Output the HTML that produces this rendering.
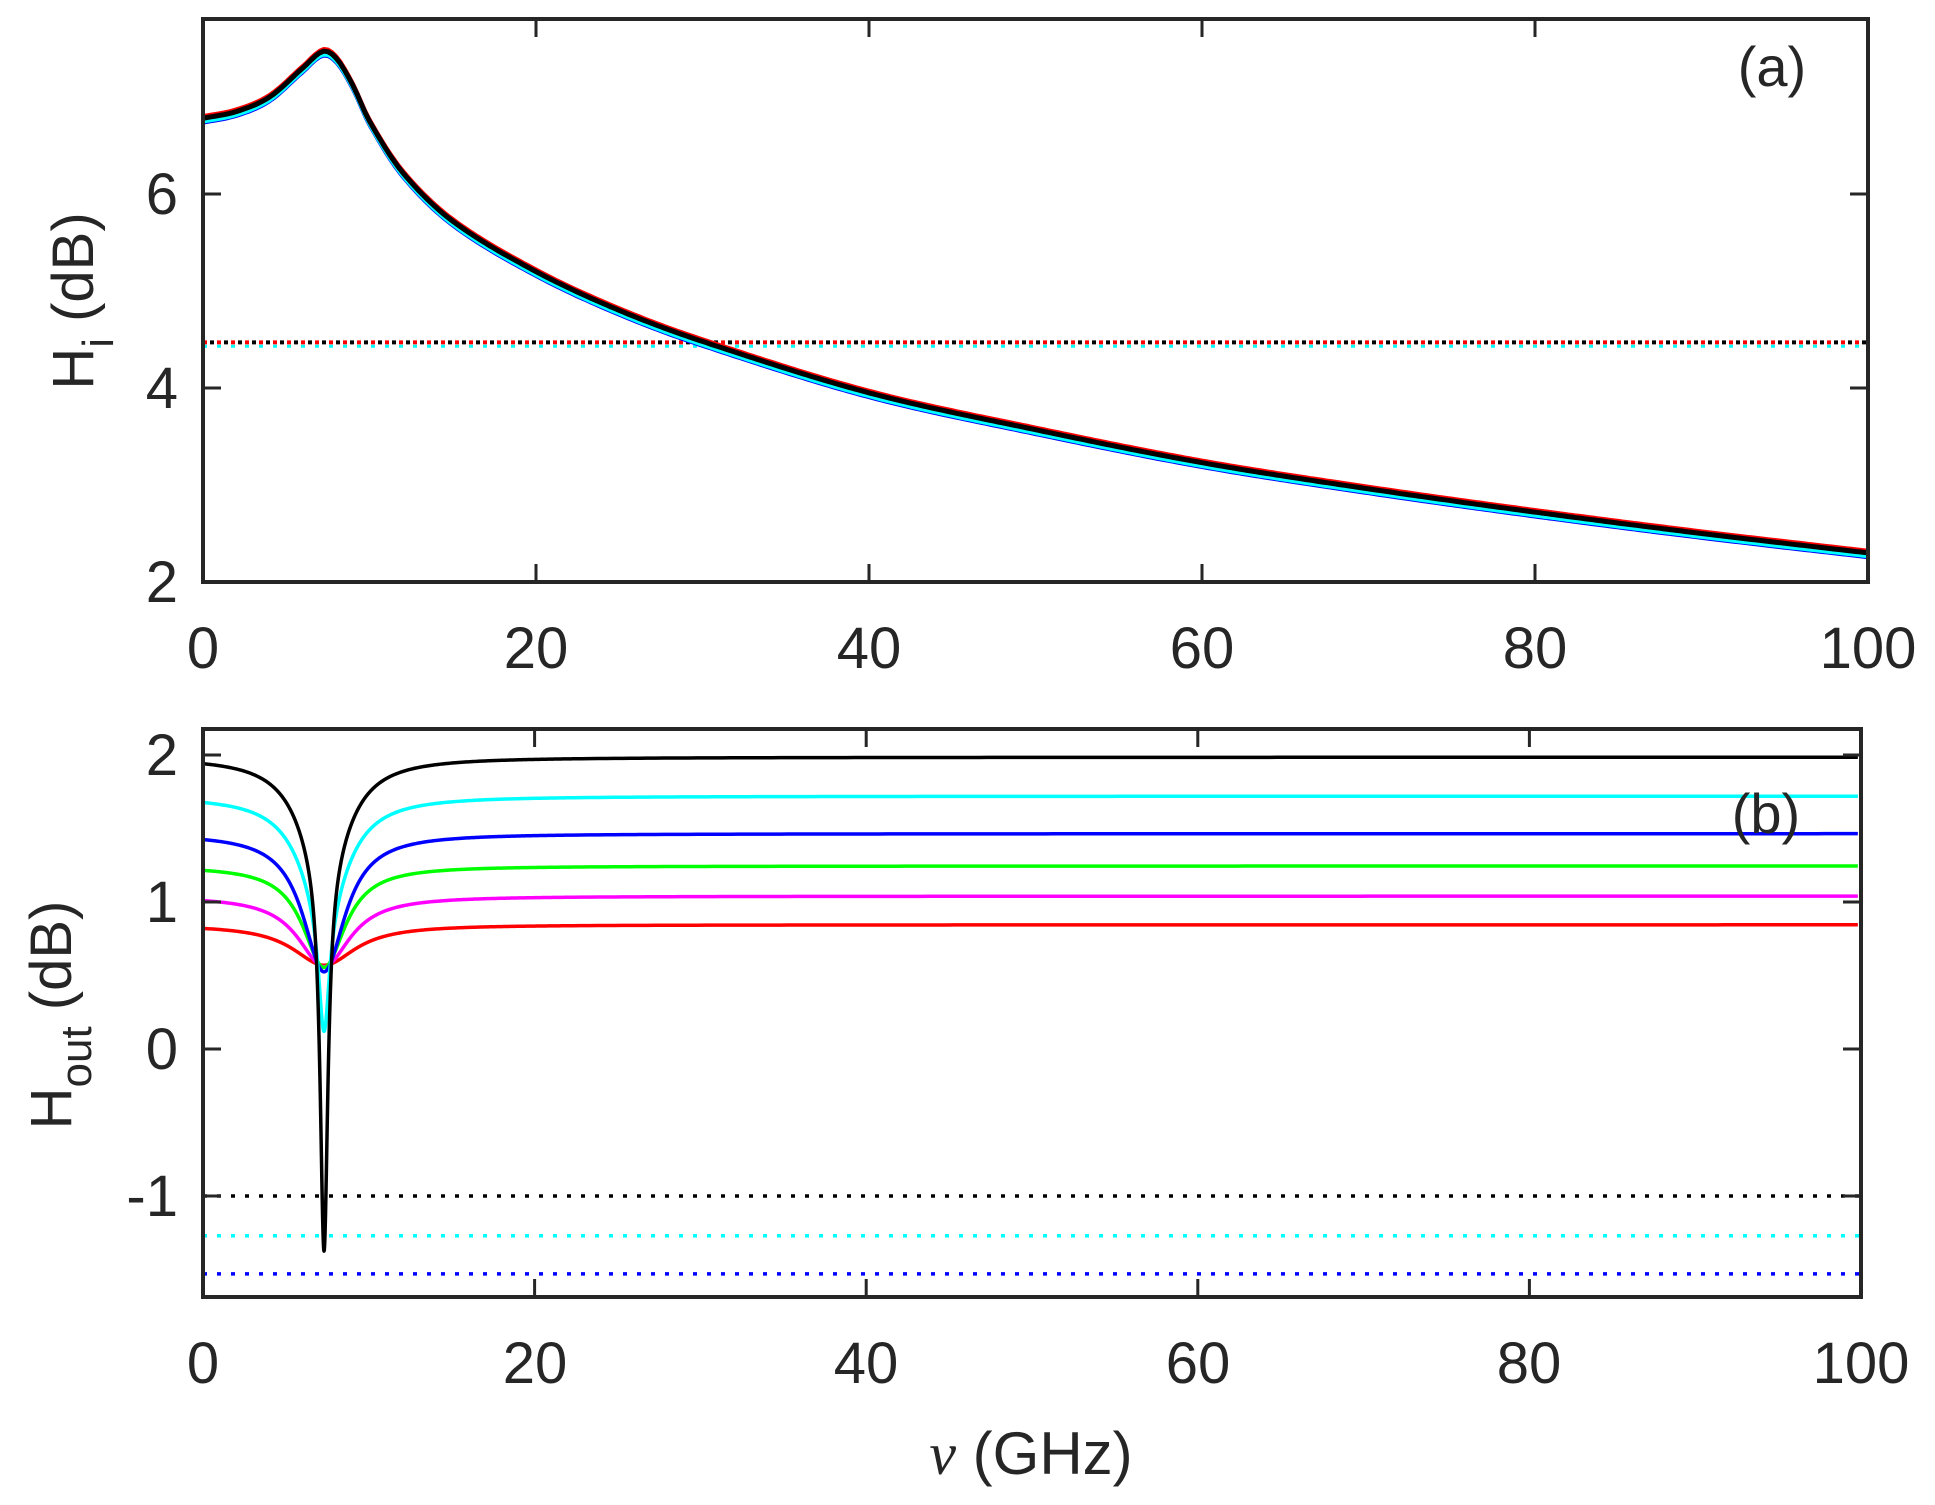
<!DOCTYPE html>
<html><head><meta charset="utf-8">
<style>
html,body{margin:0;padding:0;background:#fff;}
svg{display:block;font-family:"Liberation Sans",sans-serif;}
</style></head>
<body>
<svg id="s" width="1935" height="1505" viewBox="0 0 1935 1505" xmlns="http://www.w3.org/2000/svg">
<rect width="1935" height="1505" fill="#fff"/>
<g id="top"></g>
<g id="bot"></g>
<g fill="#262626" font-size="58">
<g text-anchor="middle">
<text x="203" y="668">0</text><text x="536" y="668">20</text><text x="869" y="668">40</text>
<text x="1202" y="668">60</text><text x="1535" y="668">80</text><text x="1868" y="668">100</text>
<text x="203" y="1383">0</text><text x="535" y="1383">20</text><text x="866" y="1383">40</text>
<text x="1198" y="1383">60</text><text x="1529" y="1383">80</text><text x="1861" y="1383">100</text>
</g>
<g text-anchor="end">
<text x="178" y="214">6</text><text x="178" y="408">4</text><text x="178" y="602">2</text>
<text x="178" y="775">2</text><text x="178" y="922">1</text><text x="178" y="1069">0</text><text x="178" y="1216">-1</text>
</g>
<text x="1772" y="86" text-anchor="middle" font-size="56">(a)</text>
<text x="1766" y="833" text-anchor="middle" font-size="56">(b)</text>
<text transform="translate(93,301) rotate(-90)" text-anchor="middle" font-size="58">H<tspan font-size="44" dy="20">i</tspan><tspan dy="-20"> (dB)</tspan></text>
<text transform="translate(71,1015) rotate(-90)" text-anchor="middle" font-size="58">H<tspan font-size="44" dy="20">out</tspan><tspan dy="-20"> (dB)</tspan></text>
<text x="1031" y="1474" text-anchor="middle" font-size="60"><tspan font-family="Liberation Serif" font-style="italic">ν</tspan> (GHz)</text>
</g>
</svg>
<script>
(function(){
var NS="http://www.w3.org/2000/svg";
function el(p,n,a){var e=document.createElementNS(NS,n);for(var k in a)e.setAttribute(k,a[k]);p.appendChild(e);return e;}
var top=document.getElementById('top'), bot=document.getElementById('bot');
var X0=203,X1=1868,Y0=19,Y1=582;
function tx(f){return X0+f*(X1-X0)/100;}
function ty(v){return Y1-97*(v-2);}
var D=[[0,6.78],[2,6.85],[4,7.0],[6,7.3],[7.2,7.47],[8,7.4],[9,7.12],[10,6.75],[12,6.22],[15,5.72],[20,5.2],[25,4.8],[30,4.48],[40,3.95],[50,3.57],[60,3.23],[70,2.96],[80,2.72],[90,2.5],[100,2.3]];
function interp(f){
 for(var i=0;i<D.length-1;i++){ if(f<=D[i+1][0]){
  var p0=D[Math.max(i-1,0)],p1=D[i],p2=D[i+1],p3=D[Math.min(i+2,D.length-1)];
  var t=(f-p1[0])/(p2[0]-p1[0]);
  var m1=(p2[1]-p0[1])/(p2[0]-p0[0]||1)*(p2[0]-p1[0]);
  var m2=(p3[1]-p1[1])/(p3[0]-p1[0]||1)*(p2[0]-p1[0]);
  var t2=t*t,t3=t2*t;
  return (2*t3-3*t2+1)*p1[1]+(t3-2*t2+t)*m1+(-2*t3+3*t2)*p2[1]+(t3-t2)*m2;}}
 return D[D.length-1][1];}
function tpath(off){var s="";for(var f=0;f<=100.001;f+=0.25){s+=(f?"L":"M")+tx(f).toFixed(1)+","+ty(interp(f)+off).toFixed(1);}return s;}
el(top,'line',{x1:X0,x2:X1,y1:ty(4.47),y2:ty(4.47),stroke:'#f00','stroke-width':4,'stroke-dasharray':'4 10'});
el(top,'line',{x1:X0+7,x2:X1,y1:ty(4.47),y2:ty(4.47),stroke:'#000','stroke-width':4,'stroke-dasharray':'4 10'});
el(top,'line',{x1:X0,x2:X1,y1:ty(4.43),y2:ty(4.43),stroke:'#0ff','stroke-width':3,'stroke-dasharray':'4 10'});
[['#00f',-0.05,3],['#0ff',-0.04,3],['#f0f',0.015,3.5],['#f00',0.025,3.5],['#000',0,5]].forEach(function(c){
 el(top,'path',{d:tpath(c[1]),fill:'none',stroke:c[0],'stroke-width':c[2],'stroke-linejoin':'round'});});
el(top,'rect',{x:X0,y:Y0,width:X1-X0,height:Y1-Y0,fill:'none',stroke:'#262626','stroke-width':4});
var g="";
for(var f=20;f<100;f+=20){var x=tx(f);g+="M"+x+","+Y1+"v-18M"+x+","+Y0+"v18";}
[4,6].forEach(function(v){var y=ty(v);g+="M"+X0+","+y+"h18M"+X1+","+y+"h-18";});
el(top,'path',{d:g,stroke:'#262626','stroke-width':3,fill:'none'});
var B0=203,B1=1861,BY0=729,BY1=1297;
function bx(f){return B0+f*(B1-B0)/100;}
function by(v){return 1049-147*v;}
[['#000',-1.0],['#0ff',-1.27],['#00f',-1.53]].forEach(function(c){
 el(bot,'line',{x1:B0,x2:B1,y1:by(c[1]),y2:by(c[1]),stroke:c[0],'stroke-width':3.5,'stroke-dasharray':'4 10'});});
var f0=7.3;
// color, base, [depth,width] pairs
var S=[['#f00',0.845,[[0.275,2.3]]],['#f0f',1.04,[[0.48,1.9]]],['#0f0',1.245,[[0.69,1.55]]],['#00f',1.465,[[0.94,1.54]]],
 ['#0ff',1.72,[[0.7,1.8],[0.9,0.4]]],['#000',1.985,[[0.7,1.8],[2.66,0.28]]]];
S.forEach(function(c){
 var base=c[1],L=c[2],s="",first=true,f=0;
 while(f<=100.0001){
  var d=f-f0,v=base;
  L.forEach(function(p){v-=p[0]/(1+(d/p[1])*(d/p[1]));});
  s+=(first?"M":"L")+bx(f).toFixed(2)+","+by(v).toFixed(2);first=false;
  f+= Math.abs(d)<3?0.01:(Math.abs(d)<15?0.1:0.5);
 }
 el(bot,'path',{d:s,fill:'none',stroke:c[0],'stroke-width':3.5,'stroke-linejoin':'round'});});
el(bot,'rect',{x:B0,y:BY0,width:B1-B0,height:BY1-BY0,fill:'none',stroke:'#262626','stroke-width':4});
g="";
for(var f=20;f<100;f+=20){var x=bx(f);g+="M"+x+","+BY1+"v-18M"+x+","+BY0+"v18";}
[-1,0,1,2].forEach(function(v){var y=by(v);g+="M"+B0+","+y+"h18M"+B1+","+y+"h-18";});
el(bot,'path',{d:g,stroke:'#262626','stroke-width':3,fill:'none'});
})();
</script>
</body></html>
